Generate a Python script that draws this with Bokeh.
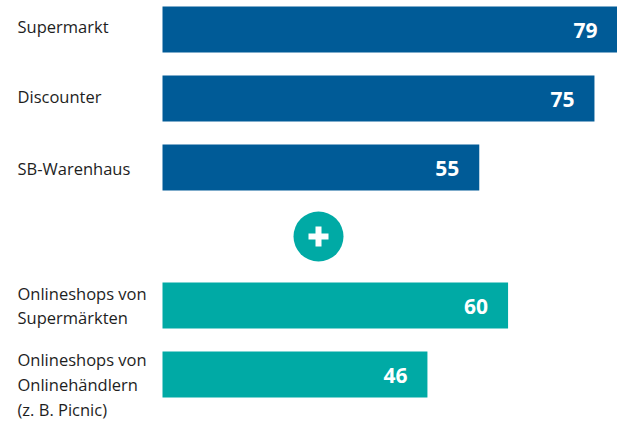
from bokeh.plotting import figure
from bokeh.models import ColumnDataSource, Range1d
from bokeh.embed import file_html
from bokeh.resources import INLINE
from bokeh.core.properties import value

# ---- data ----
categories = ["Supermarkt", "Discounter", "SB-Warenhaus",
              "Onlineshops von\nSupermärkten",
              "Onlineshops von\nOnlinehändlern\n(z. B. Picnic)"]
values = [79, 75, 55, 60, 46]
groups = ["stationär", "stationär", "stationär", "online", "online"]
slots = ["Supermarkt", "Discounter", "SB-Warenhaus", "+",
         "Onlineshops von\nSupermärkten",
         "Onlineshops von\nOnlinehändlern\n(z. B. Picnic)"]

# ---- style ----
BLUE = "#005B97"
TEAL = "#00AAA5"
colors = {"stationär": BLUE, "online": TEAL}
W, H = 617, 421
bar_left_px = 162
max_val = max(values)
px_per_unit = (W - bar_left_px) / max_val
x0 = -bar_left_px / px_per_unit

row_px = 69
top_px = 29
ys = [slots.index(c) for c in categories]
plus_y = slots.index("+")
label_dy = [-3, -2, 1, 0, 10]

src = ColumnDataSource(dict(
    y=ys, v=values, cat=categories,
    color=[colors[g] for g in groups],
    vtxt=[str(v) for v in values],
    dy=label_dy,
    lx=[x0] * len(values),
))

p = figure(width=W, height=H, output_backend="svg", toolbar_location=None,
           x_range=Range1d(x0, max_val),
           y_range=Range1d((H - top_px) / row_px, -top_px / row_px),
           min_border=0, min_border_left=0, min_border_right=0,
           min_border_top=0, min_border_bottom=0)
p.axis.visible = False
p.grid.visible = False
p.outline_line_color = None
p.background_fill_color = "white"
p.border_fill_color = "white"

p.hbar(y="y", left=0, right="v", height=46 / row_px, color="color",
       line_color=None, source=src)

p.text(x="v", y="y", text="vtxt", source=src, text_color="white",
       text_font=value("Open Sans"), text_font_style="bold",
       text_font_size="21px", text_align="right", text_baseline="middle",
       x_offset=-20, y_offset=1)

p.text(x="lx", y="y", text="cat", source=src, text_color="#1e1e1e",
       text_font=value("Open Sans"), text_font_size="16.5px",
       text_align="left", text_baseline="middle", x_offset=17,
       y_offset="dy", text_line_height=1.08)

# plus marker
plus_x = x0 + 318 / px_per_unit
p.scatter(x=[plus_x], y=[plus_y], size=50, marker="circle", color=TEAL,
          line_color=None)
p.rect(x=[plus_x], y=[plus_y], width=20, height=6, width_units="screen",
       height_units="screen", color="white", line_color=None)
p.rect(x=[plus_x], y=[plus_y], width=6, height=20, width_units="screen",
       height_units="screen", color="white", line_color=None)

open("out.html", "w").write(file_html(p, INLINE))
